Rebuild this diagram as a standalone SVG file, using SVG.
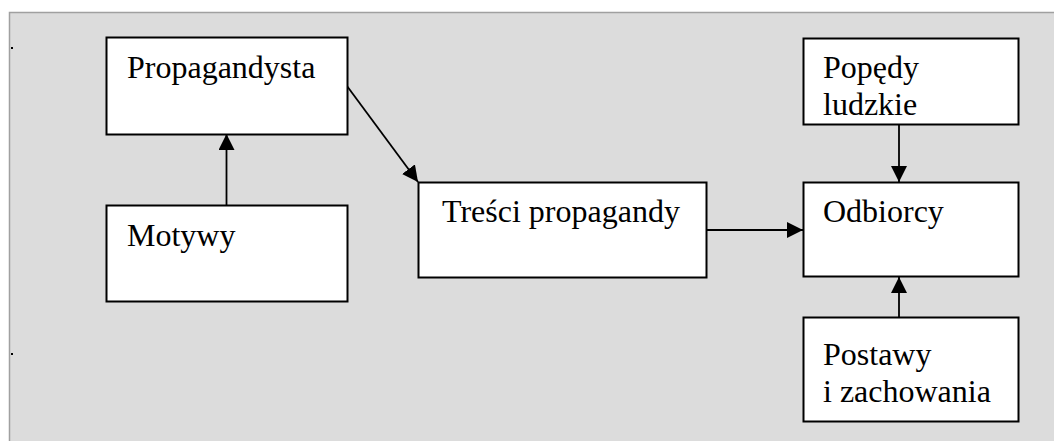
<svg xmlns="http://www.w3.org/2000/svg" width="1054" height="441" viewBox="0 0 1054 441">
<style>
.box{fill:#fff;stroke:#000;stroke-width:2}
.t{font-family:"Liberation Serif","Times New Roman",serif;font-size:32px;fill:#000}
.c{stroke:#000;stroke-width:1.8;fill:none;marker-end:url(#ah)}
</style>
<defs>
<marker id="ah" viewBox="0 0 16 16" refX="16" refY="8" markerWidth="16" markerHeight="16" markerUnits="userSpaceOnUse" orient="auto">
<path d="M0,0 L16,8 L0,16 Z" fill="#000"/>
</marker>
</defs>
<rect x="0" y="0" width="1054" height="441" fill="#fff"/>
<rect x="9.5" y="12.5" width="1060" height="440" fill="#dcdcdc" stroke="#a0a0a0" stroke-width="1.5"/>
<rect x="11" y="47" width="2" height="2" fill="#000"/>
<rect x="11" y="353" width="2" height="2" fill="#000"/>
<g id="connectors">
<line class="c" x1="226.5" y1="205" x2="226.5" y2="134"/>
<line class="c" x1="347" y1="86" x2="418" y2="182"/>
<line class="c" x1="707" y1="230" x2="803" y2="230"/>
<line class="c" x1="899" y1="124" x2="899" y2="182"/>
<line class="c" x1="899" y1="317" x2="899" y2="277"/>
</g>
<g id="propagandysta">
<rect class="box" x="106.5" y="37.5" width="241" height="97"/>
<text class="t" x="127" y="78">Propagandysta</text>
</g>
<g id="motywy">
<rect class="box" x="106.5" y="205.5" width="241" height="96"/>
<text class="t" x="127" y="246">Motywy</text>
</g>
<g id="tresci">
<rect class="box" x="418.5" y="182.5" width="288" height="95"/>
<text class="t" x="442" y="222">Treści propagandy</text>
</g>
<g id="odbiorcy">
<rect class="box" x="803.5" y="182.5" width="215" height="94"/>
<text class="t" x="823" y="222">Odbiorcy</text>
</g>
<g id="popedy">
<rect class="box" x="803.5" y="38.5" width="215" height="86"/>
<text class="t" x="823" y="78">Popędy</text>
<text class="t" x="823" y="115">ludzkie</text>
</g>
<g id="postawy">
<rect class="box" x="803.5" y="317.5" width="215" height="104"/>
<text class="t" x="823" y="365">Postawy</text>
<text class="t" x="823" y="402">i zachowania</text>
</g>
</svg>
